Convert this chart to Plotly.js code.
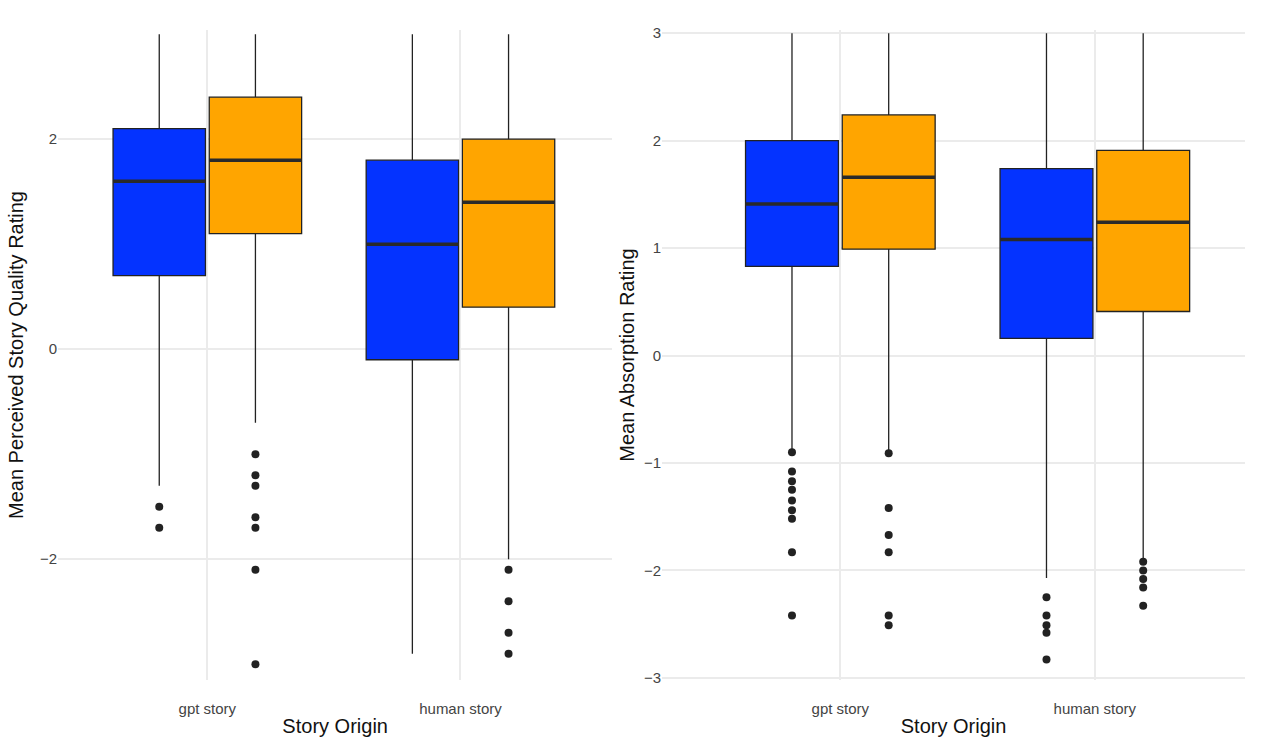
<!DOCTYPE html>
<html><head><meta charset="utf-8">
<script src="https://cdn.plot.ly/plotly-3.0.1.min.js"></script>
<style>body{margin:0}#chart{width:1280px;height:750px}</style>
</head><body><div id="chart"></div>
<script>
// categories: 0 = gpt story, 1 = human story
var categories = ['gpt story', 'human story'];

// Left panel: Mean Perceived Story Quality Rating
var qBlue = {q1: [0.7, -0.1], med: [1.6, 1.0], q3: [2.1, 1.8], lo: [-1.3, -2.9], hi: [3.0, 3.0]};
var qOrange = {q1: [1.1, 0.4], med: [1.8, 1.4], q3: [2.4, 2.0], lo: [-0.7, -2.0], hi: [3.0, 3.0]};
var qBlueOut = [[-1.5, -1.7], []];
var qOrangeOut = [[-1.0, -1.2, -1.3, -1.6, -1.7, -2.1, -3.0], [-2.1, -2.4, -2.7, -2.9]];

// Right panel: Mean Absorption Rating
var aBlue = {q1: [0.83, 0.16], med: [1.41, 1.08], q3: [2.0, 1.74], lo: [-0.88, -2.07], hi: [3.0, 3.0]};
var aOrange = {q1: [0.99, 0.41], med: [1.66, 1.24], q3: [2.24, 1.91], lo: [-0.91, -1.92], hi: [3.0, 3.0]};
var aBlueOut = [[-0.9, -1.08, -1.17, -1.25, -1.35, -1.44, -1.52, -1.83, -2.42], [-2.25, -2.42, -2.51, -2.58, -2.83]];
var aOrangeOut = [[-0.91, -1.42, -1.67, -1.83, -2.42, -2.51], [-1.92, -2.0, -2.08, -2.16, -2.33]];

var BLUE = '#0433FF', ORANGE = '#FFA500', INK = '#222';
var OFF = 0.19, W = 0.365;

function xs(off) { return categories.map(function (c, i) { return i + off; }); }

function boxTrace(s, color, off, ax) {
  return {type: 'box', x: xs(off), q1: s.q1, median: s.med, q3: s.q3,
    lowerfence: s.lo, upperfence: s.hi, fillcolor: color, whiskerwidth: 0, width: W,
    line: {color: INK, width: 1.3}, boxpoints: false, xaxis: 'x' + ax, yaxis: 'y' + ax,
    showlegend: false, hoverinfo: 'skip'};
}
function medTrace(s, off, ax) {
  var x = [], y = [];
  for (var i = 0; i < s.med.length; i++) {
    x.push(i + off - W / 2, i + off + W / 2, null);
    y.push(s.med[i], s.med[i], null);
  }
  return {type: 'scatter', mode: 'lines', x: x, y: y, line: {color: '#2a2a2a', width: 3.5},
    xaxis: 'x' + ax, yaxis: 'y' + ax, showlegend: false, hoverinfo: 'skip'};
}
function outTrace(out, off, ax) {
  var x = [], y = [];
  out.forEach(function (arr, i) { arr.forEach(function (v) { x.push(i + off); y.push(v); }); });
  return {type: 'scatter', mode: 'markers', x: x, y: y, marker: {color: INK, size: 8},
    xaxis: 'x' + ax, yaxis: 'y' + ax, showlegend: false, hoverinfo: 'skip'};
}

var data = [
  boxTrace(qBlue, BLUE, -OFF, ''), boxTrace(qOrange, ORANGE, OFF, ''),
  medTrace(qBlue, -OFF, ''), medTrace(qOrange, OFF, ''),
  outTrace(qBlueOut, -OFF, ''), outTrace(qOrangeOut, OFF, ''),
  boxTrace(aBlue, BLUE, -OFF, '2'), boxTrace(aOrange, ORANGE, OFF, '2'),
  medTrace(aBlue, -OFF, '2'), medTrace(aOrange, OFF, '2'),
  outTrace(aBlueOut, -OFF, '2'), outTrace(aOrangeOut, OFF, '2')
];

var tickFont = {family: 'Liberation Sans, Arial, sans-serif', size: 15, color: '#444'};
var titleFont = {family: 'Liberation Sans, Arial, sans-serif', size: 20, color: '#111'};
function xax(domain, range) {
  return {domain: domain, range: range, tickvals: [0, 1], ticktext: categories,
    showgrid: true, gridcolor: '#ebebeb', gridwidth: 1.5, zeroline: false, showline: false,
    ticks: '', ticklabelstandoff: 18, tickfont: tickFont,
    title: {text: 'Story Origin', font: titleFont, standoff: 2}};
}
function yax(range, dtick, anchor) {
  return {range: range, dtick: dtick, showgrid: true, gridcolor: '#ebebeb', gridwidth: 1.5,
    zeroline: false, showline: false, ticks: '', tickfont: tickFont, anchor: anchor};
}

var layout = {
  width: 1280, height: 750, paper_bgcolor: 'white', plot_bgcolor: 'white',
  margin: {l: 58, r: 35, t: 30, b: 70},
  boxmode: 'overlay',
  xaxis: xax([0, 0.467], [-0.59, 1.6]),
  yaxis: Object.assign(yax([-3.15, 3.04], 2, 'x'), {title: {text: 'Mean Perceived Story Quality Rating', font: titleFont, standoff: 10}}),
  xaxis2: Object.assign(xax([0.509, 1], [-0.70, 1.59]), {anchor: 'y2'}),
  yaxis2: Object.assign(yax([-3.02, 3.03], 1, 'x2'), {title: {text: 'Mean Absorption Rating', font: titleFont, standoff: 4}})
};

Plotly.newPlot('chart', data, layout, {displayModeBar: false});
</script></body></html>
